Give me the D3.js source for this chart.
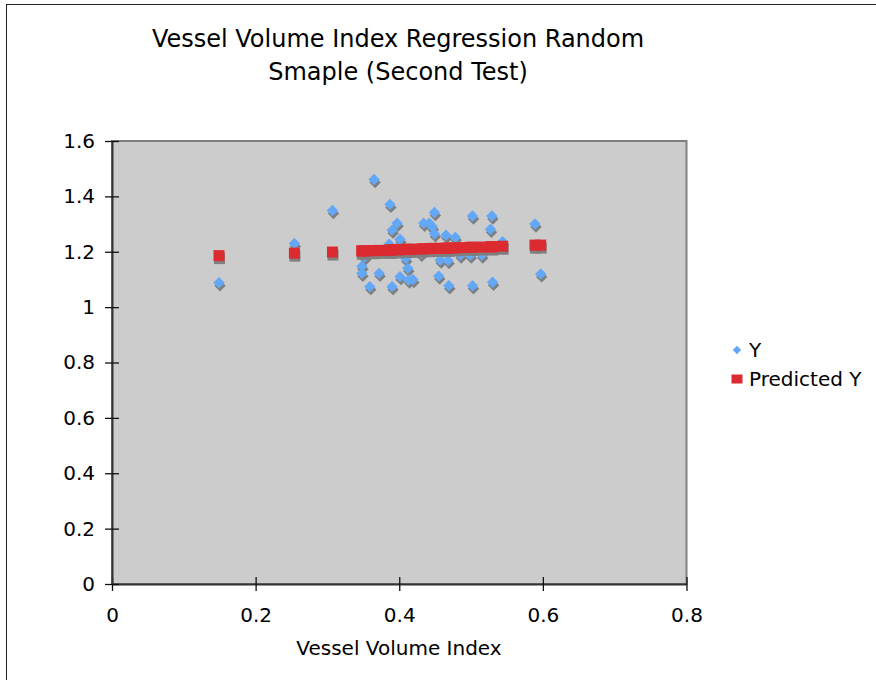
<!DOCTYPE HTML>
<html>
<head>
<title>Vessel Volume Index Regression</title>
<script src="https://cdn.jsdelivr.net/npm/d3@7"></script>
<style type="text/css">
body {
  margin: 0;
  background: white;
}
text {
  font-family: "DejaVu Sans", Verdana, sans-serif;
  fill: black;
}
</style>
</head>
<body>
<svg id="chart" width="876" height="680"></svg>
<script>
// values
var vesselIndex = [0.149, 0.254, 0.307, 0.348, 0.348, 0.352, 0.359, 0.365, 0.372, 0.386,
  0.387, 0.390, 0.390, 0.397, 0.401, 0.401, 0.409, 0.412, 0.413, 0.419,
  0.430, 0.434, 0.442, 0.446, 0.449, 0.449, 0.455, 0.457, 0.465, 0.468,
  0.469, 0.478, 0.485, 0.499, 0.502, 0.502, 0.515, 0.527, 0.529, 0.530,
  0.544, 0.589, 0.597];
var yValues = [1.088, 1.230, 1.349, 1.148, 1.122, 1.182, 1.074, 1.461, 1.122, 1.227,
  1.371, 1.278, 1.074, 1.303, 1.245, 1.110, 1.176, 1.140, 1.098, 1.100,
  1.194, 1.303, 1.303, 1.290, 1.342, 1.265, 1.112, 1.170, 1.260, 1.168,
  1.077, 1.252, 1.188, 1.188, 1.329, 1.077, 1.188, 1.281, 1.329, 1.090,
  1.236, 1.300, 1.120];
var predictedY = [1.186, 1.195, 1.199, 1.203, 1.203, 1.203, 1.204, 1.204, 1.205, 1.206,
  1.206, 1.207, 1.207, 1.207, 1.208, 1.208, 1.208, 1.209, 1.209, 1.209,
  1.210, 1.211, 1.211, 1.212, 1.212, 1.212, 1.212, 1.212, 1.213, 1.213,
  1.213, 1.214, 1.215, 1.216, 1.216, 1.216, 1.217, 1.218, 1.218, 1.218,
  1.220, 1.224, 1.224];
var xTicks = [0, 0.2, 0.4, 0.6, 0.8];
var yTicks = [0, 0.2, 0.4, 0.6, 0.8, 1, 1.2, 1.4, 1.6];
var titleLines = ["Vessel Volume Index Regression Random", "Smaple (Second Test)"];
var seriesNames = ["Y", "Predicted Y"];

var blue = "#63a8f6";
var red = "#dc2a31";
var shadow = "#7f7f7f";

var svg = d3.select("#chart");
var plot = {left: 112, top: 141, right: 686.5, bottom: 584};

var x = d3.scaleLinear().domain([0, 0.8]).range([plot.left, plot.right]);
var y = d3.scaleLinear().domain([0, 1.6]).range([plot.bottom, plot.top]);

// outer chart frame (only left/top edge fall inside the picture)
svg.append("rect")
  .attr("x", 6.5).attr("y", 4.5)
  .attr("width", 900).attr("height", 700)
  .attr("fill", "white")
  .attr("stroke", "#222").attr("stroke-width", 1);

// plot area
svg.append("rect")
  .attr("x", plot.left).attr("y", plot.top)
  .attr("width", plot.right - plot.left).attr("height", plot.bottom - plot.top)
  .attr("fill", "#cccccc")
  .attr("stroke", "#808080").attr("stroke-width", 2);

// title
svg.append("text")
  .attr("x", 398).attr("y", 47)
  .attr("text-anchor", "middle")
  .style("font-size", "24px")
  .selectAll("tspan")
  .data(titleLines)
  .enter().append("tspan")
    .attr("x", 398)
    .attr("dy", function(d, i) { return i == 0 ? 0 : 33; })
    .text(function(d) { return d; });

// axes, ticks cross the axis line
var xAxis = d3.axisBottom(x).tickValues(xTicks).tickSizeInner(7).tickSizeOuter(0)
  .tickFormat(function(d) { return d3.format("~g")(d); });
var yAxis = d3.axisLeft(y).tickValues(yTicks).tickSizeInner(7).tickSizeOuter(0)
  .tickFormat(function(d) { return d3.format("~g")(d); });

var gx = svg.append("g").attr("transform", "translate(0," + plot.bottom + ")").call(xAxis);
var gy = svg.append("g").attr("transform", "translate(" + plot.left + ",0)").call(yAxis);

[gx, gy].forEach(function(g) {
  g.select(".domain").attr("stroke", "#333").attr("stroke-width", 2);
  g.selectAll(".tick line").attr("stroke", "#111").attr("stroke-width", 1.3);
  g.selectAll(".tick text")
    .style("font-family", "'DejaVu Sans', Verdana, sans-serif")
    .style("font-size", "20px")
    .attr("fill", "black");
});
gx.selectAll(".tick line").attr("y1", -7);
gx.selectAll(".tick text").attr("y", 24);
gy.selectAll(".tick line").attr("x1", 7);
gy.selectAll(".tick text").attr("x", -17);

svg.append("text")
  .attr("x", 399).attr("y", 655)
  .attr("text-anchor", "middle")
  .style("font-size", "20px")
  .text("Vessel Volume Index");

// points
var points = vesselIndex.map(function(v, i) {
  return {x: v, y: yValues[i], p: predictedY[i]};
});

var diamond = "M0,-5.7L5.7,0L0,5.7L-5.7,0Z";
var g = svg.append("g");

g.selectAll("path.yshadow")
  .data(points).enter().append("path")
  .attr("class", "yshadow")
  .attr("d", diamond)
  .attr("fill", shadow)
  .attr("transform", function(d) { return "translate(" + (x(d.x) + 1) + "," + (y(d.y) + 3) + ")"; });
g.selectAll("path.ypoint")
  .data(points).enter().append("path")
  .attr("class", "ypoint")
  .attr("d", diamond)
  .attr("fill", blue)
  .attr("transform", function(d) { return "translate(" + x(d.x) + "," + y(d.y) + ")"; });

g.selectAll("rect.pshadow")
  .data(points).enter().append("rect")
  .attr("class", "pshadow")
  .attr("x", function(d) { return x(d.x) - 5.5 + 0.5; })
  .attr("y", function(d) { return y(d.p) - 5.5 + 3; })
  .attr("width", 11).attr("height", 11)
  .attr("fill", shadow);
g.selectAll("rect.ppoint")
  .data(points).enter().append("rect")
  .attr("class", "ppoint")
  .attr("x", function(d) { return x(d.x) - 5.5; })
  .attr("y", function(d) { return y(d.p) - 5.5; })
  .attr("width", 11).attr("height", 11)
  .attr("fill", red);

// legend
var legend = svg.append("g").attr("transform", "translate(737,0)");
legend.append("path")
  .attr("d", "M0,-4.2L4.2,0L0,4.2L-4.2,0Z")
  .attr("fill", blue)
  .attr("transform", "translate(0,350)");
legend.append("rect")
  .attr("x", -5.5).attr("y", 374.5)
  .attr("width", 11).attr("height", 9)
  .attr("fill", red);
legend.selectAll("text")
  .data(seriesNames).enter().append("text")
  .attr("x", 12)
  .attr("y", function(d, i) { return 357 + i * 29; })
  .style("font-size", "20px")
  .text(function(d) { return d; });
</script>
</body>
</html>
